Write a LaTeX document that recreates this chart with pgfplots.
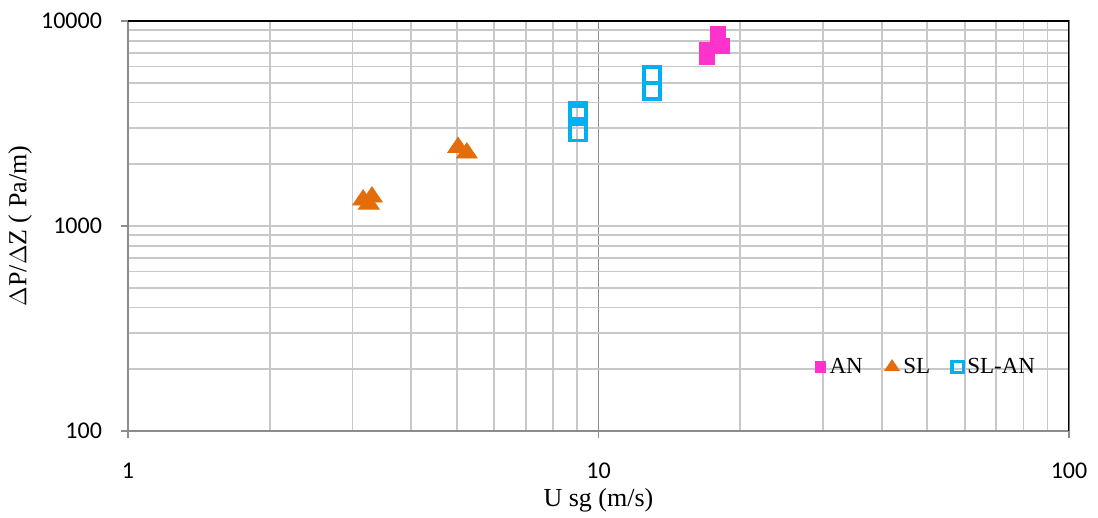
\documentclass[border=0pt]{standalone}
\usepackage{fontspec}
\setmainfont{Liberation Serif}
\newfontfamily\carlito{Carlito}
\usepackage{pgfplots}
\pgfplotsset{compat=1.18}

\definecolor{anpink}{HTML}{FF33CC}
\definecolor{slorange}{HTML}{E46C0A}
\definecolor{slanblue}{HTML}{00B0F0}
\definecolor{majgray}{HTML}{8C8C8C}
\definecolor{mingray}{HTML}{C8C8C8}

\begin{document}
\begin{tikzpicture}
% fixed page frame around the plot area
\path[use as bounding box] (-64pt,-43.5pt) rectangle (485pt,215.5pt);
\begin{axis}[
  at={(0,0)}, anchor=south west,
  scale only axis,
  width=470.5pt, height=205pt,
  xmode=log, ymode=log,
  xmin=1, xmax=100, ymin=100, ymax=10000,
  xtick={1,10,100}, xticklabels={1,10,100},
  ytick={100,1000,10000}, yticklabels={100,1000,10000},
  ticklabel style={font=\carlito\fontsize{12}{14}\selectfont},
  xticklabel style={yshift=-9pt},
  yticklabel style={xshift=-6pt},
  tick align=outside, tick pos=left,
  major tick length=3.5pt, minor tick length=0pt,
  every tick/.style={majgray, line width=0.9pt},
  grid=both,
  major x grid style={majgray, line width=0.9pt},
  minor x grid style={mingray, line width=0.9pt},
  major y grid style={mingray, line width=0.9pt},
  minor y grid style={mingray, line width=0.9pt},
  axis line style={majgray, line width=1pt},
  xlabel={U sg (m/s)},
  ylabel={$\Delta$P/$\Delta$Z ( Pa/m)},
  every axis x label/.style={at={(0.5,0)}, anchor=center, yshift=-34.5pt,
    font=\fontsize{13}{15}\selectfont},
  every axis y label/.style={at={(0,0.5)}, rotate=90, anchor=center, yshift=54pt,
    font=\fontsize{13}{15}\selectfont},
  legend columns=3,
  legend style={draw=none, fill=none, at={(0.975,0.156)}, anchor=east,
    font=\fontsize{11.5}{13}\selectfont,
    /tikz/every even column/.append style={column sep=9pt}},
  legend image post style={scale=0.7},
  legend cell align=left,
]
\addplot[only marks, mark=square*, mark size=3.75pt, color=anpink]
  coordinates {(17.95,8643) (18.3,7551) (17.0,7221) (17.0,6673)};
\addlegendentry{AN}
\addplot[only marks, mark=triangle*, mark size=6pt, color=slorange,
  mark options={yscale=0.85}]
  coordinates {(5.03,2416) (5.25,2270) (3.16,1339) (3.30,1385) (3.25,1279)};
\addlegendentry{SL}
\addplot[only marks, mark=square, mark size=4pt, color=slanblue, line width=1.7pt]
  coordinates {(12.99,5453) (12.99,4555) (9.05,3640) (9.05,3518) (9.05,2858)};
\addlegendentry{SL-AN}
% black frame on the top and right edges
\draw[black, line width=1pt] (rel axis cs:0,1) -- (rel axis cs:1,1) -- (rel axis cs:1,0);
\end{axis}
\end{tikzpicture}
\end{document}
